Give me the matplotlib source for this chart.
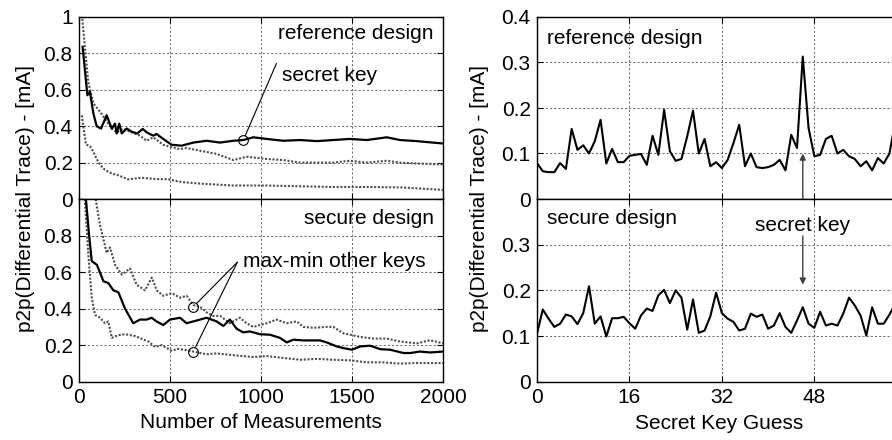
import matplotlib
matplotlib.use("Agg")
import matplotlib.pyplot as plt
import numpy as np

plt.rcParams["font.family"] = ["Liberation Sans", "DejaVu Sans"]
plt.rcParams["font.size"] = 15

# left, reference design: secret key and max/min of the other keys
ref_sec_n = [20, 46, 60, 79, 97, 121, 152, 180, 198, 207, 221, 235, 262, 289, 320, 350, 372, 408, 426, 463,
             509, 564, 628, 701, 775, 848, 903, 958, 1031, 1123, 1215, 1307, 1397, 1489, 1581, 1691, 1764, 1856, 2000]
ref_sec_v = [0.836, 0.57, 0.59, 0.47, 0.40, 0.387, 0.46, 0.387, 0.414, 0.36, 0.414, 0.36, 0.387, 0.37, 0.36, 0.385,
             0.366, 0.348, 0.357, 0.33, 0.298, 0.293, 0.31, 0.32, 0.31, 0.32, 0.324, 0.339, 0.33, 0.32,
             0.324, 0.318, 0.324, 0.33, 0.324, 0.339, 0.324, 0.318, 0.305]
ref_max_n = [8, 18, 33, 51, 79, 115, 143, 180, 207, 243, 289, 335, 372, 408, 463, 500, 555, 591, 665, 756,
             848, 921, 1031, 1123, 1215, 1307, 1397, 1489, 1581, 1691, 1764, 1856, 2000]
ref_max_v = [1.03, 0.99, 0.83, 0.64, 0.525, 0.48, 0.44, 0.387, 0.366, 0.385, 0.366, 0.348, 0.32, 0.339, 0.298,
             0.287, 0.274, 0.28, 0.265, 0.248, 0.214, 0.232, 0.22, 0.214, 0.20, 0.20, 0.20, 0.21, 0.20, 0.21,
             0.20, 0.195, 0.19]
ref_min_n = [15, 38, 60, 79, 97, 115, 134, 152, 180, 216, 271, 344, 418, 491, 564, 674, 848, 1031, 1215, 1397,
             1581, 1764, 2000]
ref_min_v = [0.46, 0.30, 0.29, 0.26, 0.22, 0.19, 0.167, 0.155, 0.14, 0.13, 0.108, 0.117, 0.11, 0.108, 0.093,
             0.084, 0.074, 0.074, 0.07, 0.066, 0.066, 0.064, 0.05]

# left, secure design
sec_sec_n = [33, 38, 55, 70, 98, 116, 134, 161, 189, 216, 253, 298, 335, 372, 399, 426, 463, 500, 555, 591,
             628, 665, 701, 756, 793, 829, 866, 902, 939, 994, 1050, 1104, 1141, 1178, 1233, 1325, 1361, 1416,
             1453, 1499, 1545, 1600, 1655, 1710, 1783, 1820, 1874, 1929, 2000]
sec_sec_v = [1.02, 1.0, 0.806, 0.66, 0.64, 0.596, 0.55, 0.54, 0.50, 0.49, 0.40, 0.32, 0.34, 0.34, 0.35, 0.33,
             0.31, 0.34, 0.35, 0.32, 0.33, 0.34, 0.35, 0.33, 0.305, 0.34, 0.29, 0.27, 0.275, 0.26, 0.257, 0.24,
             0.215, 0.23, 0.226, 0.226, 0.215, 0.193, 0.184, 0.175, 0.193, 0.197, 0.178, 0.175, 0.157, 0.157,
             0.165, 0.16, 0.165]
sec_max_n = [88, 115, 152, 170, 198, 235, 280, 317, 363, 400, 427, 463, 509, 555, 591, 628, 665, 701, 738, 775,
             829, 884, 921, 958, 994, 1031, 1086, 1141, 1196, 1233, 1288, 1361, 1397, 1453, 1545, 1618, 1691,
             1764, 1856, 1929, 2000]
sec_max_v = [1.02, 0.86, 0.705, 0.735, 0.64, 0.586, 0.62, 0.53, 0.50, 0.57, 0.50, 0.47, 0.485, 0.46, 0.47, 0.42,
             0.41, 0.38, 0.36, 0.36, 0.32, 0.35, 0.32, 0.30, 0.31, 0.32, 0.34, 0.32, 0.33, 0.30, 0.295, 0.30,
             0.30, 0.265, 0.245, 0.236, 0.236, 0.22, 0.21, 0.227, 0.21]
sec_min_n = [30, 51, 70, 88, 115, 143, 161, 180, 216, 253, 308, 381, 418, 454, 509, 546, 628, 701, 756, 848,
             958, 1031, 1123, 1215, 1307, 1397, 1489, 1581, 1672, 1764, 1856, 2000]
sec_min_v = [1.02, 0.70, 0.46, 0.366, 0.35, 0.32, 0.33, 0.24, 0.255, 0.26, 0.25, 0.22, 0.19, 0.20, 0.17, 0.18,
             0.165, 0.15, 0.155, 0.145, 0.135, 0.14, 0.13, 0.12, 0.125, 0.12, 0.117, 0.106, 0.106, 0.099,
             0.102, 0.102]

# right, p2p per key guess (0..63)
ref_key = [0.079, 0.061, 0.059, 0.059, 0.079, 0.066, 0.154, 0.108, 0.118, 0.10,
           0.127, 0.174, 0.078, 0.11, 0.081, 0.081, 0.095, 0.097, 0.099, 0.075,
           0.139, 0.097, 0.196, 0.105, 0.084, 0.088, 0.138, 0.194, 0.10, 0.132,
           0.072, 0.081, 0.068, 0.086, 0.123, 0.163, 0.072, 0.10, 0.07, 0.068,
           0.07, 0.075, 0.086, 0.063, 0.141, 0.112, 0.313, 0.156, 0.094, 0.097,
           0.132, 0.139, 0.10, 0.108, 0.094, 0.088, 0.072, 0.083, 0.063, 0.09,
           0.078, 0.10, 0.17, 0.12]
sec_key = [0.105, 0.158, 0.138, 0.12, 0.127, 0.147, 0.143, 0.126, 0.15, 0.209,
           0.127, 0.143, 0.099, 0.139, 0.139, 0.142, 0.128, 0.116, 0.145, 0.16,
           0.155, 0.189, 0.201, 0.172, 0.20, 0.184, 0.114, 0.18, 0.107, 0.112,
           0.143, 0.195, 0.15, 0.138, 0.131, 0.112, 0.116, 0.149, 0.142, 0.147,
           0.116, 0.123, 0.15, 0.12, 0.107, 0.134, 0.163, 0.127, 0.118, 0.153,
           0.123, 0.127, 0.123, 0.149, 0.184, 0.167, 0.145, 0.101, 0.163, 0.127,
           0.127, 0.147, 0.17, 0.14]
secret_key = 46

fig = plt.figure(figsize=(8.92, 4.40), dpi=100)
W, H = 892.0, 440.0


def box(x0, y0, x1, y1):
    return [x0 / W, 1 - y1 / H, (x1 - x0) / W, (y1 - y0) / H]


ax_lt = fig.add_axes(box(79, 17, 443, 199))
ax_lb = fig.add_axes(box(79, 199, 443, 381.7))
ax_rt = fig.add_axes(box(537, 17, 901, 199))
ax_rb = fig.add_axes(box(537, 199, 901, 381.7))

grid_kw = dict(color="0.3", linestyle=(0, (2.5, 2.5)), linewidth=0.6)
solid_kw = dict(color="black", linewidth=1.6)
dot_kw = dict(color="0.3", linestyle=(0, (1, 0.8)), linewidth=1.5)

for ax in (ax_lt, ax_lb, ax_rt, ax_rb):
    ax.tick_params(direction="in", top=True, right=True, length=4, width=0.8, pad=4.5)
    ax.grid(True, **grid_kw)
    for s in ax.spines.values():
        s.set_linewidth(1.0)

fmt = lambda v: f"{v:g}"

# left panels
ax_lt.plot(ref_max_n, ref_max_v, **dot_kw)
ax_lt.plot(ref_min_n, ref_min_v, **dot_kw)
ax_lt.plot(ref_sec_n, ref_sec_v, **solid_kw)
ax_lb.plot(sec_max_n, sec_max_v, **dot_kw)
ax_lb.plot(sec_min_n, sec_min_v, **dot_kw)
ax_lb.plot(sec_sec_n, sec_sec_v, **solid_kw)

lticks = [0, 0.2, 0.4, 0.6, 0.8, 1.0]
for ax in (ax_lt, ax_lb):
    ax.set_xlim(0, 2000)
    ax.set_ylim(0, 1)
    ax.set_xticks([0, 500, 1000, 1500, 2000])
    ax.set_yticks(lticks)
ax_lt.set_yticklabels([fmt(v) for v in lticks])
ax_lb.set_yticklabels([fmt(v) for v in lticks[:-1]] + [""])
ax_lt.set_xticklabels([])
ax_lb.set_xlabel("Number of Measurements", labelpad=4)

ax_lt.text(1950, 0.91, "reference design", ha="right", va="center")
ax_lb.text(1950, 0.895, "secure design", ha="right", va="center")

circ_kw = dict(marker="o", markersize=7, markerfacecolor="none", markeredgecolor="black", markeredgewidth=0.8,
               linestyle="none")
line_kw = dict(arrowstyle="-", color="black", lw=0.8, shrinkA=0, shrinkB=3.5)

ax_lt.plot([903], [0.324], **circ_kw)
ax_lt.annotate("", xy=(903, 0.324), xytext=(1085, 0.745), arrowprops=line_kw)
ax_lt.text(1115, 0.68, "secret key", ha="left", va="center")

ax_lb.plot([628, 628], [0.41, 0.165], **circ_kw)
ax_lb.annotate("", xy=(628, 0.41), xytext=(870, 0.654), arrowprops=line_kw)
ax_lb.annotate("", xy=(628, 0.165), xytext=(870, 0.654), arrowprops=line_kw)
ax_lb.text(903, 0.66, "max-min other keys", ha="left", va="center")

# right panels
keys = np.arange(len(ref_key))
ax_rt.plot(keys, ref_key, color="black", linewidth=1.5)
ax_rb.plot(keys, sec_key, color="black", linewidth=1.5)
rticks = [0, 0.1, 0.2, 0.3, 0.4]
for ax in (ax_rt, ax_rb):
    ax.set_xlim(0, 63)
    ax.set_ylim(0, 0.4)
    ax.set_xticks([0, 16, 32, 48])
    ax.set_yticks(rticks)
ax_rt.set_yticklabels([fmt(v) for v in rticks])
ax_rb.set_yticklabels([fmt(v) for v in rticks[:-1]] + [""])
ax_rt.set_xticklabels([])
ax_rb.set_xlabel("Secret Key Guess", labelpad=5)

ax_rt.text(1.7, 0.353, "reference design", ha="left", va="center")
ax_rb.text(1.7, 0.357, "secure design", ha="left", va="center")
ax_rb.text(secret_key, 0.342, "secret key", ha="center", va="center")

arrow_kw = dict(arrowstyle="-|>", color="0.25", lw=1.0, mutation_scale=9, shrinkA=0, shrinkB=0)
ax_rt.annotate("", xy=(secret_key, 0.1), xytext=(secret_key, -0.021), arrowprops=arrow_kw,
               annotation_clip=False)
ax_rb.annotate("", xy=(secret_key, 0.2125), xytext=(secret_key, 0.319), arrowprops=arrow_kw)

ylab = "p2p(Differential Trace) - [mA]"
fig.text(26 / W, 1 - 199 / H, ylab, rotation=90, ha="center", va="center")
fig.text(479 / W, 1 - 199 / H, ylab, rotation=90, ha="center", va="center")

fig.savefig("out.png", dpi=100)
